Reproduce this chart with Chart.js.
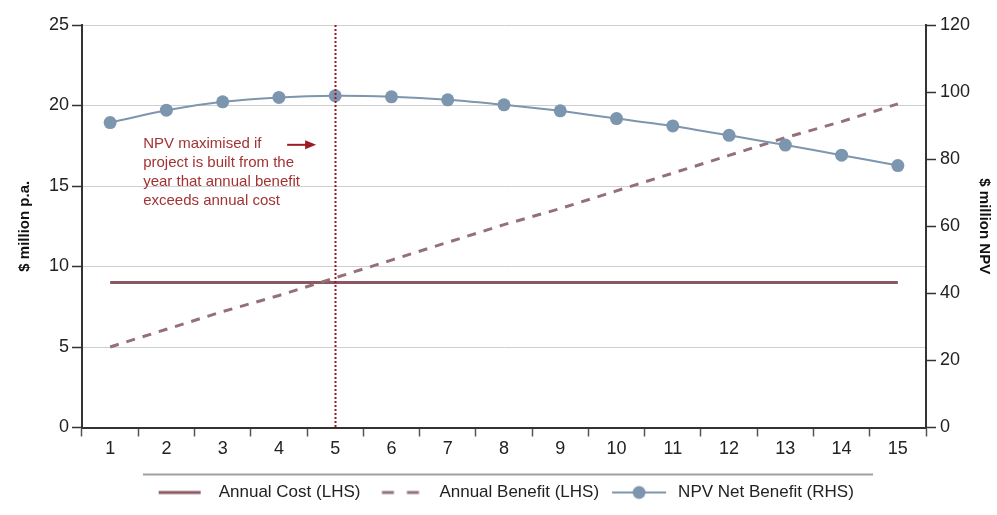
<!DOCTYPE html>
<html>
<head>
<meta charset="utf-8">
<script src="https://cdn.jsdelivr.net/npm/chart.js@4/dist/chart.umd.min.js"></script>
<style>
  html, body { margin: 0; padding: 0; background: #ffffff; }
  #wrap { width: 997px; height: 515px; }
</style>
</head>
<body>
<div id="wrap"><canvas id="c" width="997" height="515"></canvas></div>
<script>
// ---- data ----
const categories = ['1','2','3','4','5','6','7','8','9','10','11','12','13','14','15'];
const annualCost = [9, 9, 9, 9, 9, 9, 9, 9, 9, 9, 9, 9, 9, 9, 9];
const annualBenefit = [5.0, 6.1, 7.2, 8.2, 9.3, 10.4, 11.5, 12.6, 13.6, 14.7, 15.8, 16.9, 18.0, 19.0, 20.1];
const npvNetBenefit = [90.9, 94.6, 97.1, 98.4, 98.9, 98.6, 97.7, 96.2, 94.4, 92.1, 89.9, 87.1, 84.2, 81.2, 78.1];
const seriesNames = ['Annual Cost (LHS)', 'Annual Benefit (LHS)', 'NPV Net Benefit (RHS)'];
const leftTitle = '$ million p.a.';
const rightTitle = '$ million NPV';
const noteLines = ['NPV maximised if', 'project is built from the', 'year that annual benefit', 'exceeds annual cost'];
const optimumIndex = 4; // year 5

// ---- styles ----
const FONT = '"Liberation Sans", Arial, Helvetica, sans-serif';
const costColor = '#8b5862';
const benefitColor = '#957079';
const npvColor = '#7d96af';
const noteColor = '#a33333';
const markColor = '#9e1b24';

function legendCanvas(kind) {
  const cv = document.createElement('canvas');
  cv.width = 56; cv.height = 16;
  const g = cv.getContext('2d');
  g.lineCap = 'butt';
  if (kind === 0) {
    g.strokeStyle = costColor; g.lineWidth = 3;
    g.beginPath(); g.moveTo(7, 8); g.lineTo(49, 8); g.stroke();
  } else if (kind === 1) {
    g.strokeStyle = benefitColor; g.lineWidth = 3;
    g.beginPath(); g.moveTo(9.5, 8); g.lineTo(21.5, 8); g.moveTo(34.5, 8); g.lineTo(46.5, 8); g.stroke();
  } else {
    g.strokeStyle = npvColor; g.lineWidth = 2;
    g.beginPath(); g.moveTo(1, 8); g.lineTo(55, 8); g.stroke();
    g.fillStyle = npvColor;
    g.beginPath(); g.arc(28, 8, 6.5, 0, Math.PI * 2); g.fill();
  }
  return cv;
}
const legendIcons = [legendCanvas(0), legendCanvas(1), legendCanvas(2)];

const annotationPlugin = {
  id: 'notes',
  afterLayout(chart) {
    chart.legend.left += 6;
  },
  afterDatasetsDraw(chart) {
    const ctx = chart.ctx;
    const xs = chart.scales.x, yl = chart.scales.y;
    const area = chart.chartArea;
    ctx.save();
    const vx = Math.round(xs.getPixelForValue(optimumIndex)) + 0.5;
    ctx.strokeStyle = markColor;
    ctx.lineWidth = 2;
    ctx.setLineDash([2, 2]);
    ctx.beginPath(); ctx.moveTo(vx, area.top); ctx.lineTo(vx, area.bottom); ctx.stroke();
    ctx.setLineDash([]);
    const tx = xs.getPixelForValue(0) + 33;
    const ty = yl.getPixelForValue(17.62);
    ctx.fillStyle = noteColor;
    ctx.font = '15px ' + FONT;
    ctx.textBaseline = 'middle';
    ctx.textAlign = 'left';
    noteLines.forEach((t, i) => ctx.fillText(t, tx, ty + i * 19));
    const ax0 = xs.getPixelForValue(0) + 177, ax1 = xs.getPixelForValue(0) + 206;
    const ay = ty + 1;
    ctx.strokeStyle = markColor; ctx.fillStyle = markColor; ctx.lineWidth = 2;
    ctx.beginPath(); ctx.moveTo(ax0, ay); ctx.lineTo(ax1 - 8, ay); ctx.stroke();
    ctx.beginPath(); ctx.moveTo(ax1, ay); ctx.lineTo(ax1 - 11, ay - 4.5); ctx.lineTo(ax1 - 11, ay + 4.5); ctx.closePath(); ctx.fill();
    ctx.restore();
  },
  afterDraw(chart) {
    const ctx = chart.ctx;
    const lg = chart.legend;
    ctx.save();
    ctx.strokeStyle = '#a0a0a0';
    ctx.lineWidth = 2;
    ctx.beginPath(); ctx.moveTo(143, lg.top); ctx.lineTo(873, lg.top); ctx.stroke();
    ctx.restore();
  }
};

new Chart(document.getElementById('c'), {
  type: 'line',
  data: {
    labels: categories,
    datasets: [
      { label: seriesNames[0], data: annualCost, yAxisID: 'y', borderColor: costColor, backgroundColor: costColor,
        borderWidth: 3, pointRadius: 0, tension: 0, order: 3 },
      { label: seriesNames[1], data: annualBenefit, yAxisID: 'y', borderColor: benefitColor, backgroundColor: benefitColor,
        borderWidth: 3, borderDash: [9, 8], pointRadius: 0, tension: 0, order: 2 },
      { label: seriesNames[2], data: npvNetBenefit, yAxisID: 'y1', borderColor: npvColor, backgroundColor: npvColor,
        borderWidth: 2, pointRadius: 6.5, pointBackgroundColor: npvColor, pointBorderWidth: 0, tension: 0.2, order: 1 }
    ]
  },
  options: {
    responsive: false,
    animation: false,
    devicePixelRatio: 1,
    layout: { padding: { top: 25, bottom: 4, left: 0, right: 0 } },
    plugins: {
      legend: {
        position: 'bottom',
        align: 'center',
        labels: {
          usePointStyle: true,
          pointStyleWidth: 61,
          padding: 9.5,
          color: '#222',
          font: { family: FONT, size: 17 },
          generateLabels(chart) {
            return chart.data.datasets.map((ds, i) => ({
              text: ds.label, pointStyle: legendIcons[i], fillStyle: ds.borderColor,
              strokeStyle: ds.borderColor, lineWidth: 0, hidden: false, datasetIndex: i, fontColor: '#222'
            }));
          }
        }
      },
      tooltip: { enabled: false }
    },
    scales: {
      x: {
        type: 'category',
        offset: true,
        afterFit(s) { s.height = 47; },
        grid: { display: true, offset: true, drawOnChartArea: false, drawTicks: true, tickLength: 9, tickColor: '#555', tickWidth: 1.5 },
        border: { display: true, color: '#333', width: 2 },
        ticks: { color: '#222', font: { family: FONT, size: 18 }, padding: 2, maxRotation: 0 }
      },
      y: {
        position: 'left',
        min: 0, max: 25,
        afterFit(s) { s.width = 82; },
        ticks: { stepSize: 5, color: '#222', font: { family: FONT, size: 18 }, padding: 3 },
        grid: { color: '#cfcfcf', lineWidth: 1, tickColor: '#333', tickLength: 10, tickWidth: 1.5 },
        border: { display: true, color: '#333', width: 2 },
        title: { display: true, text: leftTitle, color: '#111', font: { family: FONT, size: 15, weight: 'bold' }, padding: { top: 16, bottom: 4 } }
      },
      y1: {
        position: 'right',
        min: 0, max: 120,
        afterFit(s) { s.width = 71; },
        ticks: { stepSize: 20, color: '#222', font: { family: FONT, size: 18 }, padding: 4 },
        grid: { drawOnChartArea: false, tickColor: '#333', tickLength: 10, tickWidth: 1.5 },
        border: { display: true, color: '#333', width: 2 },
        title: { display: true, text: rightTitle, color: '#111', font: { family: FONT, size: 15, weight: 'bold' }, padding: { top: 4, bottom: 0 } }
      }
    }
  },
  plugins: [annotationPlugin]
});
</script>
</body>
</html>
